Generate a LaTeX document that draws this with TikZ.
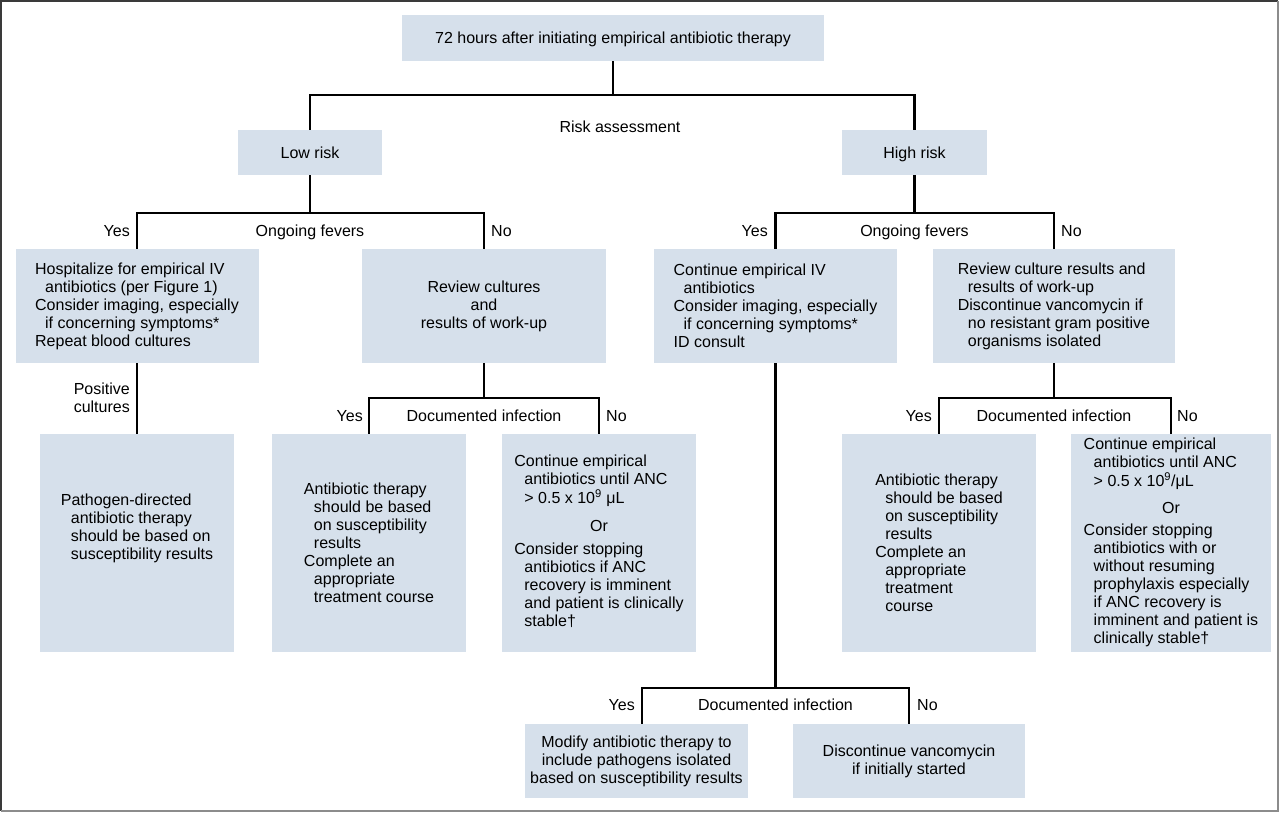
\documentclass[tikz,border=0pt]{standalone}
\usepackage{fontspec}
\setmainfont{Liberation Sans}
\usepackage{tikz}
\usetikzlibrary{calc}
\definecolor{cBox}{HTML}{D6E0EB}
\definecolor{cFrameA}{HTML}{3A3A3A}
\definecolor{cFrameB}{HTML}{8C8C8C}
\newcommand\boxfont{\fontsize{16}{18}\selectfont}
\newcommand\indl{\hspace*{10pt}}
\tikzset{
  box/.style={fill=cBox, draw=none, text=black, align=center, font=\boxfont,
              inner sep=0pt},
  boxl/.style={box, align=left},
  oneline/.style={text height=11.5pt, text depth=0pt},
  sz/.style 2 args={minimum width=#1, minimum height=#2},
  wire/.style={line width=2.4pt, draw=black},
  lbl/.style={font=\boxfont, inner sep=0pt, oneline},
  lbltwo/.style={font=\boxfont, inner sep=0pt, align=right},
}

\begin{document}
\begin{tikzpicture}[x=1pt, y=-1pt]
  \useasboundingbox (0,0) rectangle (1280,813);
  \draw[cFrameA, line width=1.6pt] (1,811) -- (1,1) -- (1278,1);
  \draw[cFrameB, line width=1.6pt] (1278,1) -- (1278,811) -- (1,811);

  \node[box, oneline, sz={422pt}{46pt}] (top) at (613,38) {72 hours after initiating empirical antibiotic therapy};
  \node[box, oneline, sz={144pt}{45pt}] (low) at (310,152.5) {Low risk};
  \node[box, oneline, sz={145pt}{45pt}] (high) at (914.5,152.5) {High risk};

  \node[boxl, sz={243pt}{114pt}] (hosp) at (137,306) {Hospitalize for empirical IV\\\indl antibiotics (per Figure 1)\\Consider imaging, especially\\\indl if concerning symptoms*\\Repeat blood cultures};
  \node[box, sz={244pt}{114pt}] (review) at (484,306) {Review cultures\\and\\results of work-up};
  \node[boxl, sz={243pt}{114pt}] (contiv) at (775.5,306) {Continue empirical IV\\\indl antibiotics\\Consider imaging, especially\\\indl if concerning symptoms*\\ID consult};
  \node[boxl, sz={242pt}{114pt}] (reviewhi) at (1054,306) {Review culture results and\\\indl results of work-up\\Discontinue vancomycin if\\\indl no resistant gram positive\\\indl organisms isolated};

  \node[boxl, sz={194pt}{218pt}] (pathogen) at (137,543) {Pathogen-directed\\\indl antibiotic therapy\\\indl should be based on\\\indl susceptibility results\\[14pt]};
  \node[boxl, sz={194pt}{218pt}] (abxlo) at (369,543) {Antibiotic therapy\\\indl should be based\\\indl on susceptibility\\\indl results\\Complete an\\\indl appropriate\\\indl treatment course};
  \node[box, sz={194pt}{218pt}] (contlo) at (599,543) {\begin{tabular}{@{}l@{}}Continue empirical\\\indl antibiotics until ANC\\\indl > 0.5 x 10\textsuperscript{9} μL\\[10pt]\multicolumn{1}{@{}c@{}}{Or}\\[5pt]Consider stopping\\\indl antibiotics if ANC\\\indl recovery is imminent\\\indl and patient is clinically\\\indl stable†\end{tabular}};
  \node[boxl, sz={194pt}{218pt}] (abxhi) at (939,543) {Antibiotic therapy\\\indl should be based\\\indl on susceptibility\\\indl results\\Complete an\\\indl appropriate\\\indl treatment\\\indl course};
  \node[box, sz={200pt}{218pt}] (conthi) at (1171,543) {\begin{tabular}{@{}l@{}}Continue empirical\\\indl antibiotics until ANC\\\indl > 0.5 x 10\textsuperscript{9}/μL\\[9pt]\multicolumn{1}{@{}c@{}}{Or}\\[4pt]Consider stopping\\\indl antibiotics with or\\\indl without resuming\\\indl prophylaxis especially\\\indl if ANC recovery is\\\indl imminent and patient is\\\indl clinically stable†\end{tabular}};

  \node[box, sz={223pt}{74pt}] (modify) at (636.5,761) {Modify antibiotic therapy to\\include pathogens isolated\\based on susceptibility results};
  \node[box, sz={232pt}{74pt}] (stopvanc) at (909,761) {Discontinue vancomycin\\if initially started};

  \draw[wire] (top.south) -- ++(0,34) coordinate (riskfork);
  \draw[wire] (low.north) |- (riskfork) -| (high.north);
  \draw[wire] (low.south) -- ++(0,38) coordinate (lowfork);
  \draw[wire] (hosp.north) |- (lowfork) -| (review.north);
  \draw[wire] (high.south) -- ++(0,38) coordinate (highfork);
  \draw[wire] (contiv.north) |- (highfork) -| (reviewhi.north);
  \draw[wire] (hosp.south) -- (pathogen.north);
  \draw[wire] (review.south) -- ++(0,35) coordinate (revfork);
  \draw[wire] (abxlo.north) |- (revfork) -| (contlo.north);
  \draw[wire] (reviewhi.south) -- ++(0,35) coordinate (revhifork);
  \draw[wire] (abxhi.north) |- (revhifork) -| (conthi.north);
  \draw[wire] (contiv.south) -- ++(0,325) coordinate (ivfork);
  \draw[wire] ([xshift=5.5pt]modify.north) |- (ivfork) -| (stopvanc.north);

  \node[lbl] (risk) at (620,127) {Risk assessment};
  \node[lbl, anchor=east] (lowyes) at (130,231) {Yes};
  \node[lbl] (lowfev) at (310,231) {Ongoing fevers};
  \node[lbl, anchor=west] (lowno) at (491,231) {No};
  \node[lbl, anchor=east] (highyes) at (768,231) {Yes};
  \node[lbl] (highfev) at (914.5,231) {Ongoing fevers};
  \node[lbl, anchor=west] (highno) at (1061,231) {No};
  \node[lbltwo, anchor=east] (poscult) at (130,398) {Positive\\cultures};
  \node[lbl, anchor=east] (revyes) at (363,416) {Yes};
  \node[lbl] (revdoc) at (484,416) {Documented infection};
  \node[lbl, anchor=west] (revno) at (606,416) {No};
  \node[lbl, anchor=east] (revhiyes) at (932,416) {Yes};
  \node[lbl] (revhidoc) at (1054,416) {Documented infection};
  \node[lbl, anchor=west] (revhino) at (1177,416) {No};
  \node[lbl, anchor=east] (ivyes) at (635,705) {Yes};
  \node[lbl] (ivdoc) at (775.5,705) {Documented infection};
  \node[lbl, anchor=west] (ivno) at (917,705) {No};
\end{tikzpicture}
\end{document}
